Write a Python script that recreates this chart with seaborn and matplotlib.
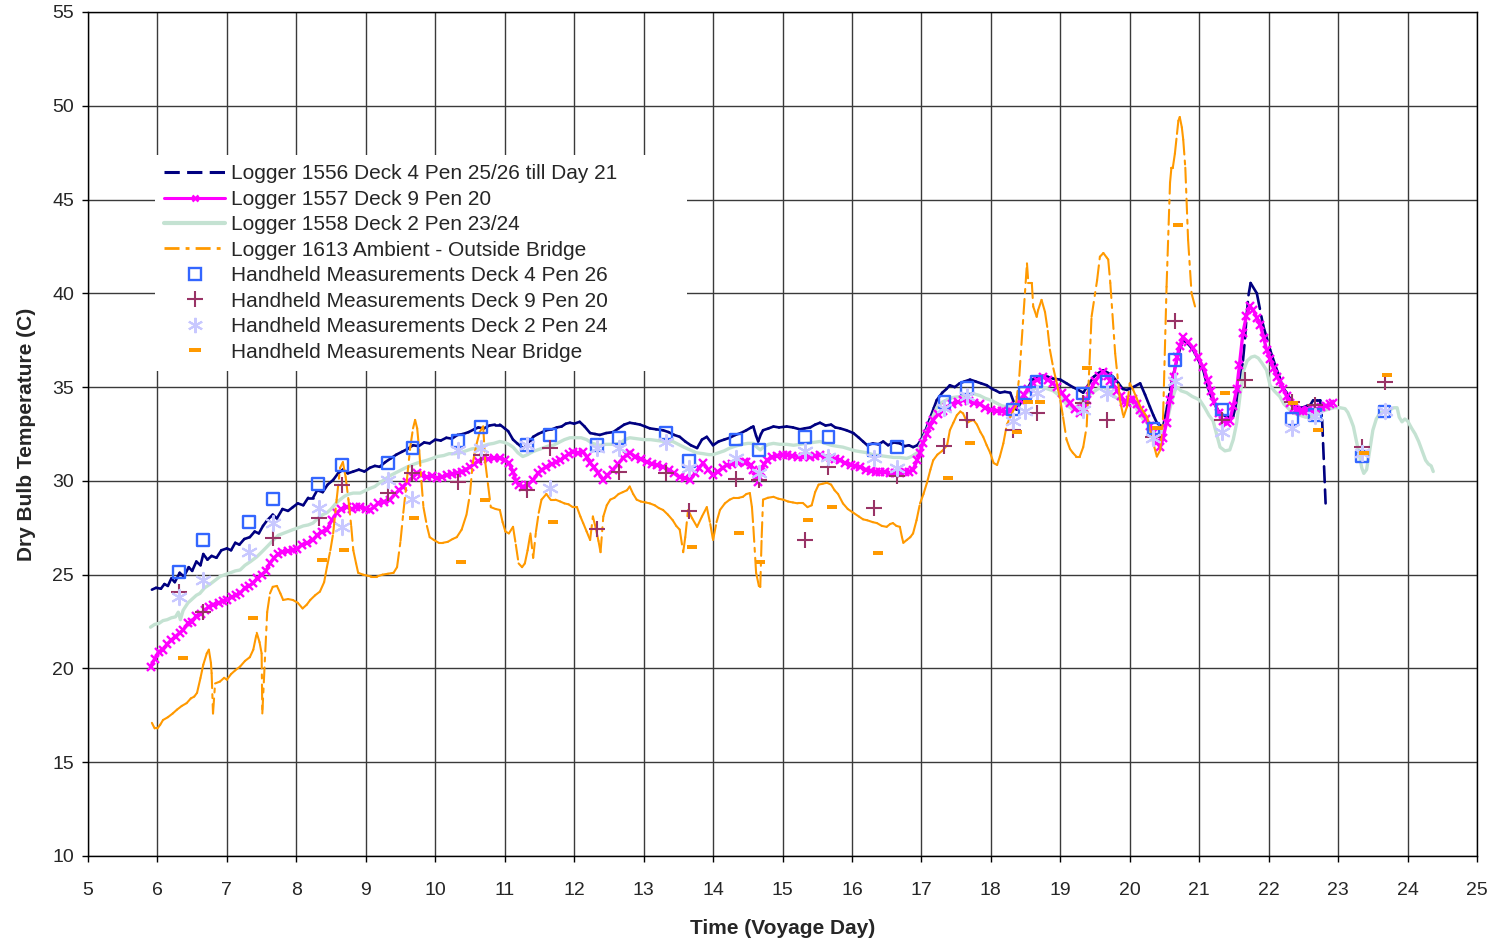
import numpy as np
import matplotlib
matplotlib.use("Agg")
import matplotlib.pyplot as plt
import seaborn as sns
from matplotlib.collections import LineCollection
from matplotlib.lines import Line2D
from matplotlib.path import Path

sns.set_style("ticks")
plt.rcParams["font.family"] = ["Liberation Sans", "DejaVu Sans"]

# ---------------- logger records (voyage day, dry bulb temperature C) ----------------
logger1556_day = [5.92, 5.98, 6.05, 6.10, 6.15, 6.20, 6.25, 6.32, 6.38, 6.45, 6.50, 6.56, 6.62, 6.66, 6.72,
                  6.78, 6.85, 6.92, 7.00, 7.06, 7.12, 7.18, 7.25, 7.33, 7.40, 7.46, 7.52, 7.58, 7.66, 7.72,
                  7.80, 7.88, 7.95, 8.02, 8.10, 8.17, 8.24, 8.30, 8.38, 8.45, 8.53, 8.60, 8.67, 8.74, 8.82,
                  8.90, 8.98, 9.06, 9.13, 9.20, 9.28, 9.36, 9.44, 9.52, 9.60, 9.68, 9.76, 9.84, 9.92, 10.00,
                  10.08, 10.16, 10.24, 10.32, 10.40, 10.48, 10.56, 10.62, 10.70, 10.78, 10.86, 10.93, 11.00,
                  11.05, 11.12, 11.18, 11.26, 11.33, 11.41, 11.48, 11.54, 11.60, 11.68, 11.75, 11.82, 11.88,
                  11.94, 12.00, 12.08, 12.15, 12.23, 12.30, 12.37, 12.46, 12.56, 12.64, 12.72, 12.80, 12.88,
                  12.95, 13.02, 13.09, 13.18, 13.28, 13.36, 13.44, 13.52, 13.60, 13.68, 13.77, 13.84, 13.91,
                  14.00, 14.08, 14.16, 14.24, 14.32, 14.40, 14.48, 14.55, 14.58, 14.62, 14.65, 14.69, 14.72,
                  14.80, 14.87, 14.95, 15.06, 15.15, 15.25, 15.32, 15.40, 15.47, 15.54, 15.62, 15.70, 15.76,
                  15.83, 15.92, 16.02, 16.10, 16.16, 16.22, 16.30, 16.38, 16.45, 16.52, 16.60, 16.69, 16.76,
                  16.82, 16.88, 16.94, 16.98, 17.03, 17.06, 17.10, 17.14, 17.18, 17.22, 17.30, 17.36, 17.41,
                  17.48, 17.55, 17.62, 17.70, 17.78, 17.86, 17.94, 18.02, 18.08, 18.13, 18.20, 18.28, 18.33,
                  18.37, 18.42, 18.47, 18.54, 18.60, 18.68, 18.75, 18.82, 18.90, 19.00, 19.09, 19.18, 19.26,
                  19.33, 19.40, 19.48, 19.55, 19.62, 19.69, 19.76, 19.84, 19.90, 19.96, 20.05, 20.15, 20.22,
                  20.29, 20.34, 20.39, 20.44, 20.48, 20.53, 20.58, 20.63, 20.68, 20.72, 20.77, 20.84, 20.91,
                  20.98, 21.06, 21.10, 21.15, 21.22, 21.30, 21.38, 21.44, 21.49, 21.54, 21.59, 21.63, 21.66,
                  21.68, 21.71, 21.74, 21.83, 21.92, 22.02, 22.10, 22.16, 22.20, 22.26, 22.33, 22.40, 22.48,
                  22.55, 22.60, 22.64, 22.69, 22.74, 22.77, 22.82]
logger1556_temp = [24.2, 24.3, 24.25, 24.5, 24.4, 24.8, 24.6, 25.1, 24.9, 25.4, 25.2, 25.7, 25.5, 26.1, 25.8,
                   26.0, 25.9, 26.3, 26.4, 26.3, 26.7, 26.6, 26.9, 27.0, 27.3, 27.2, 27.6, 27.9, 28.2, 28.0,
                   28.5, 28.4, 28.6, 28.8, 28.7, 29.1, 29.1, 29.5, 29.4, 29.8, 30.05, 30.4, 30.6, 30.4, 30.5,
                   30.6, 30.5, 30.7, 30.8, 30.75, 31.0, 31.2, 31.4, 31.55, 31.7, 31.9, 31.85, 32.05, 32.0, 32.2,
                   32.15, 32.3, 32.25, 32.45, 32.5, 32.6, 32.75, 32.85, 32.8, 32.95, 33.0, 33.0, 32.8,
                   32.65, 32.2, 32.0, 31.75, 31.9, 32.35, 32.5, 32.6, 32.7, 32.75, 32.85, 32.9, 33.05,
                   33.1, 33.05, 33.15, 32.9, 32.55, 32.5, 32.45, 32.55, 32.6, 32.8, 33.0, 33.1, 33.05,
                   33.0, 32.9, 32.8, 32.75, 32.7, 32.6, 32.45, 32.35, 32.1, 31.9, 31.75, 32.2, 32.35,
                   31.9, 32.1, 32.2, 32.3, 32.45, 32.55, 32.7, 32.85, 32.9, 32.4, 32.1, 32.5, 32.7,
                   32.8, 32.9, 32.85, 32.9, 32.85, 32.75, 32.8, 32.85, 33.0, 33.1, 32.95, 33.0, 32.85,
                   32.8, 32.7, 32.55, 32.3, 32.1, 31.9, 32.0, 31.95, 32.1, 31.9, 32.05, 32.0, 31.85,
                   31.9, 31.8, 31.9, 32.1, 32.45, 32.7, 33.1, 33.5, 33.9, 34.3, 34.7, 34.9, 35.1,
                   35.0, 35.2, 35.3, 35.4, 35.3, 35.2, 35.1, 34.9, 34.8, 34.7, 34.75, 34.7, 34.2,
                   33.8, 34.1, 34.5, 35.0, 35.4, 35.5, 35.6, 35.55, 35.45, 35.4, 35.2, 35.0, 34.85,
                   34.7, 35.1, 35.55, 35.75, 35.9, 35.75, 35.55, 35.2, 34.9, 34.85, 35.0, 35.2, 34.6,
                   33.95, 33.5, 33.1, 32.95, 32.9, 33.8, 34.85, 35.7, 36.45, 37.0, 37.5, 37.3, 37.0,
                   36.5, 35.9, 35.3, 34.7, 34.1, 33.6, 33.45, 33.4, 33.45, 34.2, 35.4, 36.4, 37.6,
                   38.7, 39.9, 40.55, 40.0, 38.3, 37.0, 36.1, 35.5, 35.0, 34.7, 34.25, 33.95, 33.9,
                   34.0, 34.05, 34.3, 34.3, 34.3, 33.25, 28.8]

logger1557_day = [5.90, 5.96, 6.02, 6.08, 6.14, 6.20, 6.26, 6.32, 6.37, 6.44, 6.50, 6.56, 6.62, 6.68, 6.74,
                  6.80, 6.88, 6.94, 7.00, 7.07, 7.13, 7.19, 7.26, 7.32, 7.38, 7.44, 7.50, 7.56, 7.62, 7.68,
                  7.74, 7.80, 7.88, 7.95, 8.01, 8.08, 8.16, 8.24, 8.30, 8.37, 8.44, 8.51, 8.58, 8.65, 8.73,
                  8.80, 8.86, 8.92, 9.00, 9.06, 9.12, 9.18, 9.26, 9.35, 9.42, 9.48, 9.54, 9.60, 9.68, 9.74,
                  9.80, 9.88, 9.95, 10.03, 10.10, 10.17, 10.24, 10.31, 10.38, 10.44, 10.50, 10.56, 10.62,
                  10.69, 10.76, 10.84, 10.93, 11.00, 11.06, 11.12, 11.16, 11.20, 11.26, 11.33, 11.41, 11.48,
                  11.54, 11.60, 11.68, 11.74, 11.80, 11.87, 11.93, 11.98, 12.05, 12.13, 12.18, 12.23, 12.28,
                  12.35, 12.42, 12.48, 12.56, 12.63, 12.70, 12.76, 12.80, 12.88, 12.96, 13.05, 13.12, 13.20,
                  13.28, 13.36, 13.44, 13.52, 13.60, 13.67, 13.74, 13.80, 13.86, 13.93, 14.00, 14.07, 14.14,
                  14.20, 14.28, 14.36, 14.44, 14.48, 14.54, 14.58, 14.62, 14.65, 14.69, 14.74, 14.78, 14.85,
                  14.92, 15.00, 15.06, 15.14, 15.22, 15.30, 15.40, 15.47, 15.54, 15.62, 15.70, 15.76, 15.83,
                  15.90, 15.98, 16.05, 16.12, 16.20, 16.28, 16.35, 16.40, 16.48, 16.55, 16.62, 16.69, 16.76,
                  16.82, 16.88, 16.94, 16.98, 17.02, 17.08, 17.12, 17.17, 17.24, 17.31, 17.37, 17.44, 17.52,
                  17.60, 17.68, 17.76, 17.84, 17.92, 18.00, 18.09, 18.16, 18.22, 18.28, 18.35, 18.42, 18.48,
                  18.54, 18.60, 18.67, 18.75, 18.82, 18.89, 18.95, 19.02, 19.08, 19.14, 19.21, 19.28, 19.34,
                  19.38, 19.43, 19.50, 19.56, 19.62, 19.68, 19.72, 19.76, 19.82, 19.88, 19.92, 19.96, 20.00,
                  20.05, 20.10, 20.15, 20.19, 20.24, 20.29, 20.34, 20.39, 20.44, 20.48, 20.53, 20.58, 20.63,
                  20.68, 20.72, 20.77, 20.84, 20.91, 20.98, 21.06, 21.12, 21.17, 21.22, 21.28, 21.34, 21.40,
                  21.44, 21.49, 21.54, 21.58, 21.63, 21.68, 21.73, 21.78, 21.83, 21.88, 21.93, 21.97, 22.02,
                  22.07, 22.12, 22.16, 22.21, 22.26, 22.31, 22.36, 22.40, 22.45, 22.50, 22.56, 22.62, 22.70,
                  22.76, 22.82, 22.88, 22.93]
logger1557_temp = [20.1, 20.5, 20.9, 21.0, 21.3, 21.5, 21.7, 21.9, 22.05, 22.4, 22.5, 22.8, 22.9, 23.1, 23.3,
                   23.4, 23.5, 23.6, 23.65, 23.8, 23.9, 24.0, 24.3, 24.4, 24.55, 24.8, 25.0, 25.2, 25.6, 25.9,
                   26.1, 26.2, 26.25, 26.3, 26.35, 26.6, 26.7, 26.85, 27.1, 27.3, 27.4, 27.9, 28.3, 28.5, 28.6,
                   28.5, 28.6, 28.6, 28.5, 28.45, 28.6, 28.8, 28.9, 29.0, 29.3, 29.5, 29.7, 29.95, 30.2, 30.4,
                   30.3, 30.2, 30.25, 30.15, 30.2, 30.3, 30.35, 30.4, 30.5, 30.6, 30.75, 30.9, 31.05,
                   31.2, 31.15, 31.2, 31.2, 31.1, 30.95, 30.5, 30.0, 29.8, 29.7, 29.8, 30.05, 30.4,
                   30.6, 30.75, 30.9, 31.0, 31.1, 31.3, 31.45, 31.55, 31.5, 31.55, 31.3, 30.95, 30.75,
                   30.4, 30.05, 30.3, 30.6, 30.9, 31.2, 31.4, 31.5, 31.3, 31.15, 31.0, 30.9, 30.85,
                   30.75, 30.6, 30.4, 30.2, 30.15, 30.05, 30.4, 30.7, 30.95, 30.6, 30.3, 30.5, 30.7,
                   30.85, 30.9, 30.95, 31.0, 31.0, 30.85, 30.6, 30.2, 29.95, 30.5, 30.9, 31.1, 31.25,
                   31.35, 31.4, 31.4, 31.35, 31.3, 31.3, 31.3, 31.35, 31.4, 31.3, 31.2, 31.15, 31.1,
                   30.95, 30.85, 30.8, 30.75, 30.6, 30.55, 30.5, 30.5, 30.45, 30.4, 30.4, 30.4, 30.45,
                   30.5, 30.6, 31.1, 31.5, 32.0, 32.5, 32.9, 33.25, 33.55, 33.75, 33.95, 34.1, 34.2,
                   34.3, 34.25, 34.15, 34.1, 33.9, 33.8, 33.75, 33.7, 33.65, 33.7, 34.0, 34.3, 34.6,
                   34.9, 35.2, 35.4, 35.55, 35.4, 35.2, 35.0, 34.7, 34.4, 34.15, 33.85, 33.6, 33.9,
                   34.3, 34.85, 35.3, 35.6, 35.8, 35.6, 35.3, 35.15, 34.8, 34.5, 34.2, 34.15, 34.3,
                   34.35, 34.1, 33.8, 33.6, 33.3, 32.9, 32.55, 32.1, 31.8, 32.3, 33.1, 34.3, 35.55,
                   36.6, 37.2, 37.65, 37.4, 37.1, 36.6, 36.05, 35.4, 34.8, 34.2, 33.6, 33.2, 33.1,
                   33.2, 34.0, 34.9, 36.2, 37.9, 38.8, 39.3, 39.1, 38.7, 38.3, 37.6, 37.0, 36.5,
                   36.0, 35.55, 35.3, 34.9, 34.5, 34.15, 33.9, 33.8, 33.7, 33.75, 33.8, 33.75, 33.85,
                   33.95, 34.0, 34.1, 34.15]

logger1558_day = [5.90, 5.96, 6.02, 6.08, 6.14, 6.20, 6.26, 6.30, 6.33, 6.37, 6.44, 6.50, 6.56, 6.61, 6.68,
                  6.76, 6.83, 6.90, 6.97, 7.05, 7.12, 7.19, 7.26, 7.34, 7.43, 7.50, 7.58, 7.67, 7.74, 7.81,
                  7.88, 7.95, 8.03, 8.10, 8.17, 8.24, 8.31, 8.38, 8.44, 8.50, 8.57, 8.63, 8.70, 8.76, 8.82,
                  8.92, 9.00, 9.06, 9.13, 9.20, 9.28, 9.36, 9.44, 9.52, 9.60, 9.70, 9.78, 9.88, 9.96, 10.03,
                  10.12, 10.20, 10.28, 10.36, 10.44, 10.52, 10.60, 10.68, 10.76, 10.84, 10.93, 11.00, 11.06,
                  11.12, 11.19, 11.26, 11.33, 11.40, 11.47, 11.55, 11.62, 11.70, 11.78, 11.86, 11.94, 12.02,
                  12.10, 12.18, 12.26, 12.37, 12.46, 12.56, 12.66, 12.73, 12.80, 12.90, 13.00, 13.10, 13.20,
                  13.30, 13.42, 13.50, 13.58, 13.67, 13.76, 13.86, 13.94, 14.00, 14.08, 14.16, 14.24, 14.32,
                  14.42, 14.50, 14.58, 14.63, 14.68, 14.74, 14.80, 14.87, 14.96, 15.06, 15.16, 15.25, 15.34,
                  15.44, 15.54, 15.62, 15.70, 15.78, 15.87, 15.96, 16.05, 16.14, 16.22, 16.30, 16.40, 16.50,
                  16.60, 16.69, 16.79, 16.86, 16.94, 16.98, 17.03, 17.08, 17.15, 17.22, 17.30, 17.38, 17.46,
                  17.56, 17.66, 17.75, 17.84, 17.92, 18.00, 18.08, 18.16, 18.23, 18.30, 18.37, 18.44, 18.52,
                  18.60, 18.67, 18.74, 18.82, 18.90, 18.97, 19.04, 19.11, 19.18, 19.25, 19.32, 19.38, 19.46,
                  19.54, 19.62, 19.70, 19.78, 19.86, 19.95, 20.05, 20.12, 20.19, 20.25, 20.32, 20.39, 20.45,
                  20.50, 20.55, 20.60, 20.65, 20.68, 20.74, 20.82, 20.90, 20.96, 21.01, 21.08, 21.14, 21.20,
                  21.25, 21.30, 21.37, 21.44, 21.49, 21.54, 21.59, 21.64, 21.69, 21.75, 21.80, 21.85, 21.90,
                  21.97, 22.02, 22.08, 22.16, 22.22, 22.30, 22.37, 22.45, 22.53, 22.60, 22.68, 22.76, 22.84,
                  22.94, 23.03, 23.10, 23.14, 23.18, 23.22, 23.27, 23.31, 23.34, 23.37, 23.41, 23.45, 23.50,
                  23.55, 23.60, 23.68, 23.75, 23.80, 23.85, 23.88, 23.92, 23.96, 24.00, 24.06, 24.11, 24.16,
                  24.21, 24.26, 24.30, 24.34, 24.37]
logger1558_temp = [22.2, 22.35, 22.4, 22.55, 22.6, 22.7, 22.75, 23.0, 22.6, 23.1, 23.5, 23.7, 23.9, 24.0, 24.3,
                   24.5, 24.7, 24.9, 25.0, 25.1, 25.2, 25.25, 25.5, 25.7, 25.95, 26.2, 26.5, 26.85, 27.1, 27.2,
                   27.3, 27.4, 27.5, 27.6, 27.65, 27.75, 28.0, 28.2, 28.3, 28.5, 28.8, 29.0, 29.2, 29.3, 29.35,
                   29.35, 29.5, 29.6, 29.7, 29.9, 30.1, 30.3, 30.45, 30.6, 30.75, 30.9, 31.0, 31.1, 31.2, 31.3,
                   31.35, 31.45, 31.45, 31.5, 31.6, 31.7, 31.75, 31.85, 31.95, 32.0, 32.1, 32.05, 31.95,
                   31.8, 31.5, 31.3, 31.4, 31.55, 31.65, 31.75, 31.85, 31.9, 32.05, 32.2, 32.3, 32.3,
                   32.3, 32.2, 32.0, 31.9, 31.95, 31.95, 32.0, 32.2, 32.3, 32.25, 32.2, 32.2, 32.15,
                   32.1, 32.1, 31.95, 31.8, 31.65, 31.5, 31.45, 31.4, 31.4, 31.5, 31.6, 31.75, 31.85,
                   31.95, 32.0, 32.0, 31.8, 31.65, 31.85, 31.95, 32.0, 31.95, 31.95, 31.9, 31.95, 32.0,
                   32.05, 32.1, 32.0, 31.9, 31.85, 31.8, 31.7, 31.6, 31.55, 31.5, 31.4, 31.35, 31.3,
                   31.25, 31.25, 31.2, 31.3, 31.5, 31.9, 32.3, 32.7, 33.3, 33.9, 34.2, 34.35, 34.45,
                   34.5, 34.6, 34.65, 34.55, 34.4, 34.3, 34.15, 34.0, 33.95, 33.95, 34.2, 34.45, 34.7,
                   34.85, 35.0, 35.0, 34.9, 34.8, 34.6, 34.3, 34.0, 33.8, 34.0, 34.3, 34.5, 34.7,
                   34.9, 35.0, 34.8, 34.5, 34.3, 34.2, 34.15, 33.7, 33.3, 33.1, 32.7, 32.35, 32.6,
                   32.9, 33.4, 34.2, 34.8, 35.0, 34.8, 34.7, 34.5, 34.4, 34.3, 33.9, 33.5, 33.2,
                   32.5, 31.8, 31.6, 31.65, 32.2, 33.1, 34.6, 35.9, 36.4, 36.6, 36.65, 36.55, 36.3,
                   35.9, 35.1, 34.8, 34.5, 34.1, 33.8, 33.6, 33.5, 33.4, 33.4, 33.55, 33.7, 33.8,
                   33.9, 33.9, 33.85, 33.65, 33.3, 32.9, 32.0, 31.3, 30.7, 30.4, 30.6, 31.5, 32.7,
                   33.3, 33.6, 33.7, 33.8, 33.9, 33.9, 33.4, 33.15, 33.3, 33.2, 32.8, 32.5, 32.1,
                   31.6, 31.1, 30.9, 30.8, 30.5]

logger1613_day = [5.92, 5.96, 6.00, 6.04, 6.08, 6.15, 6.22, 6.28, 6.35, 6.42, 6.48, 6.53, 6.57, 6.62, 6.66,
                  6.71, 6.74, 6.77, 6.78, 6.80, 6.83, 6.90, 6.96, 7.00, 7.06, 7.12, 7.19, 7.26, 7.33, 7.38,
                  7.43, 7.47, 7.50, 7.51, 7.58, 7.62, 7.66, 7.72, 7.77, 7.81, 7.88, 7.95, 8.02, 8.09, 8.15,
                  8.20, 8.27, 8.34, 8.40, 8.44, 8.49, 8.53, 8.58, 8.63, 8.67, 8.71, 8.75, 8.79, 8.82, 8.86,
                  8.89, 8.96, 9.02, 9.08, 9.16, 9.24, 9.32, 9.40, 9.45, 9.50, 9.54, 9.59, 9.64, 9.68, 9.71,
                  9.74, 9.77, 9.80, 9.83, 9.88, 9.92, 9.98, 10.05, 10.11, 10.18, 10.25, 10.31, 10.38, 10.45,
                  10.50, 10.54, 10.59, 10.64, 10.69, 10.72, 10.76, 10.80, 10.87, 10.93, 10.97, 11.01, 11.06,
                  11.12, 11.16, 11.20, 11.25, 11.29, 11.33, 11.37, 11.41, 11.45, 11.49, 11.53, 11.60, 11.66,
                  11.73, 11.80, 11.86, 11.92, 11.98, 12.04, 12.09, 12.13, 12.18, 12.23, 12.27, 12.31, 12.35,
                  12.38, 12.42, 12.47, 12.52, 12.58, 12.64, 12.70, 12.76, 12.80, 12.85, 12.90, 12.96, 13.03,
                  13.09, 13.16, 13.22, 13.28, 13.35, 13.42, 13.47, 13.52, 13.57, 13.60, 13.64, 13.70, 13.77,
                  13.84, 13.91, 13.96, 14.00, 14.05, 14.10, 14.17, 14.24, 14.30, 14.37, 14.43, 14.48, 14.53,
                  14.56, 14.58, 14.62, 14.66, 14.68, 14.70, 14.72, 14.79, 14.87, 14.94, 15.01, 15.08, 15.15,
                  15.22, 15.30, 15.36, 15.42, 15.47, 15.52, 15.58, 15.64, 15.70, 15.75, 15.80, 15.87, 15.94,
                  16.02, 16.10, 16.16, 16.22, 16.30, 16.36, 16.43, 16.50, 16.55, 16.59, 16.64, 16.69, 16.72,
                  16.74, 16.79, 16.84, 16.88, 16.93, 16.98, 17.03, 17.08, 17.13, 17.17, 17.23, 17.30, 17.37,
                  17.41, 17.46, 17.51, 17.56, 17.60, 17.66, 17.71, 17.75, 17.80, 17.85, 17.89, 17.94, 17.99,
                  18.04, 18.09, 18.13, 18.18, 18.23, 18.28, 18.33, 18.36, 18.41, 18.52, 18.54, 18.59, 18.61,
                  18.66, 18.68, 18.73, 18.78, 18.82, 18.85, 18.90, 18.95, 19.00, 19.04, 19.09, 19.14, 19.18,
                  19.23, 19.28, 19.33, 19.38, 19.45, 19.53, 19.57, 19.62, 19.67, 19.69, 19.72, 19.79, 19.86,
                  19.91, 19.96, 20.00, 20.05, 20.10, 20.16, 20.25, 20.30, 20.34, 20.39, 20.44, 20.48, 20.53,
                  20.58, 20.60, 20.62, 20.65, 20.68, 20.70, 20.72, 20.75, 20.77, 20.80, 20.84, 20.89, 20.94]
logger1613_temp = [17.1, 16.8, 16.8, 17.0, 17.25, 17.4, 17.6, 17.8, 18.0, 18.15, 18.4, 18.5, 18.7, 19.5, 20.2,
                   20.8, 21.0, 20.3, 19.75, 17.6, 19.2, 19.3, 19.5, 19.4, 19.7, 19.9, 20.1, 20.4, 20.6, 21.0,
                   21.9, 21.4, 20.8, 17.6, 23.0, 24.0, 24.35, 24.4, 24.0, 23.65, 23.7, 23.65, 23.5, 23.2, 23.4,
                   23.65, 23.9, 24.1, 24.6, 25.4, 26.3, 27.2, 29.0, 30.7, 31.0, 30.2, 29.0, 27.6, 26.3, 25.6,
                   25.1, 25.0, 24.95, 24.9, 24.9, 25.0, 25.05, 25.1, 25.4, 26.8, 28.3, 30.0, 31.8, 32.8, 33.25,
                   32.8, 31.6, 30.0, 28.6, 27.6, 27.0, 26.85, 26.7, 26.7, 26.75, 26.9, 27.0, 27.4, 28.2,
                   29.3, 30.95, 31.9, 32.6, 32.9, 31.0, 29.8, 28.6, 28.5, 28.45, 27.8, 27.3, 27.2,
                   27.55, 26.6, 25.6, 25.4, 25.6, 26.3, 27.2, 25.9, 27.3, 28.3, 29.0, 29.3, 29.0,
                   29.0, 28.9, 28.8, 28.75, 28.6, 28.6, 28.1, 27.75, 27.3, 26.85, 28.1, 27.5, 26.8,
                   26.2, 28.1, 28.7, 29.0, 29.1, 29.3, 29.4, 29.5, 29.7, 29.3, 29.0, 28.9, 28.85,
                   28.8, 28.7, 28.55, 28.45, 28.2, 27.9, 27.6, 27.4, 26.2, 27.0, 28.45, 28.0, 27.55,
                   28.1, 28.6, 27.7, 26.85, 27.8, 28.45, 28.8, 29.0, 29.1, 29.1, 29.15, 29.3, 29.35,
                   28.6, 27.55, 25.1, 24.4, 24.35, 27.0, 29.0, 29.1, 29.15, 29.05, 29.0, 28.9, 28.85,
                   28.8, 28.8, 28.6, 28.7, 29.4, 29.8, 29.85, 29.9, 29.8, 29.5, 29.3, 28.8, 28.5,
                   28.3, 28.1, 27.95, 27.9, 27.8, 27.75, 27.6, 27.55, 27.7, 27.75, 27.6, 27.55, 27.0,
                   26.7, 26.85, 27.0, 27.2, 27.9, 28.8, 29.3, 29.9, 30.6, 31.1, 31.4, 31.6, 31.9,
                   32.7, 33.1, 33.5, 33.7, 33.6, 33.1, 33.2, 33.25, 33.0, 32.6, 32.35, 31.9, 31.5,
                   30.95, 30.85, 31.3, 32.0, 33.0, 33.4, 33.8, 34.0, 35.6, 41.6, 40.55, 40.55, 39.3,
                   38.75, 39.1, 39.65, 39.0, 38.0, 37.0, 36.0, 35.2, 34.3, 33.4, 32.2, 31.7, 31.5,
                   31.3, 31.3, 31.8, 32.9, 38.75, 40.7, 41.95, 42.15, 41.9, 41.8, 40.55, 36.8, 34.3,
                   33.4, 33.95, 35.2, 34.85, 34.4, 33.9, 33.4, 32.6, 32.0, 31.3, 31.65, 33.4, 40.35,
                   45.9, 46.7, 46.7, 47.45, 48.5, 49.2, 49.4, 48.85, 48.2, 46.7, 42.85, 40.0, 39.3]

# ---------------- handheld readings ----------------
hh_deck4_day = [6.31, 6.66, 7.32, 7.66, 8.31, 8.66, 9.32, 9.67, 10.33, 10.66, 11.32, 11.65, 12.33, 12.65,
                13.32, 13.65, 14.33, 14.66, 15.32, 15.66, 16.32, 16.65, 17.33, 17.66, 18.32, 18.49, 18.66,
                19.33, 19.67, 20.34, 20.65, 21.33, 22.34, 22.67, 23.34, 23.67]
hh_deck4_temp = [25.14, 26.85, 27.8, 29.03, 29.83, 30.85, 30.95, 31.75, 32.13, 32.87, 31.9, 32.45, 31.9, 32.3,
                 32.55, 31.05, 32.2, 31.65, 32.35, 32.35, 31.65, 31.8, 34.2, 34.95, 33.8, 34.7, 35.3,
                 34.65, 35.3, 32.8, 36.45, 33.8, 33.3, 33.5, 31.3, 33.7]

hh_deck9_day = [6.31, 6.66, 7.66, 8.33, 8.66, 9.32, 9.66, 10.33, 10.66, 11.32, 11.65, 12.33, 12.65, 13.32,
                13.65, 14.33, 14.66, 15.32, 15.66, 16.32, 16.65, 17.33, 17.66, 18.32, 18.66, 19.33, 19.67,
                20.34, 20.65, 21.33, 21.66, 22.34, 22.67, 23.34, 23.67]
hh_deck9_temp = [24.07, 23.0, 26.95, 28.0, 29.8, 29.35, 30.4, 29.95, 31.4, 29.5, 31.75, 27.45, 30.45, 30.4,
                 28.4, 30.1, 30.05, 26.85, 30.75, 28.55, 30.25, 31.85, 33.25, 32.7, 33.6, 34.15, 33.25,
                 32.35, 38.5, 33.25, 35.4, 34.2, 34.05, 31.8, 35.25]

hh_deck2_day = [6.31, 6.66, 7.32, 7.66, 8.33, 8.66, 9.32, 9.66, 10.33, 10.66, 11.32, 11.65, 12.33, 12.65,
                13.32, 13.65, 14.33, 14.66, 15.32, 15.66, 16.32, 16.65, 17.33, 17.66, 18.32, 18.49, 18.66,
                19.33, 19.67, 20.34, 20.65, 21.33, 22.34, 22.67, 23.34, 23.67]
hh_deck2_temp = [23.8, 24.7, 26.2, 27.75, 28.55, 27.55, 30.05, 29.05, 31.65, 31.75, 31.9, 29.6, 31.75, 31.75,
                 32.05, 30.7, 31.2, 30.4, 31.6, 31.3, 31.2, 30.7, 33.9, 34.5, 33.2, 33.7, 34.7,
                 33.8, 34.7, 32.3, 35.3, 32.6, 32.8, 33.45, 31.5, 33.7]

hh_bridge_day = [6.37, 7.38, 8.37, 8.69, 9.69, 10.37, 10.71, 11.70, 13.70, 14.37, 14.68, 15.37, 15.71, 16.37,
                 17.38, 17.70, 18.37, 18.54, 18.71, 19.38, 20.39, 20.70, 21.37, 22.35, 22.71, 23.38, 23.70]
hh_bridge_temp = [20.55, 22.7, 25.8, 26.3, 28.0, 25.7, 29.0, 27.8, 26.5, 27.2, 25.7, 27.9, 28.6, 26.15,
                  30.15, 32.0, 32.6, 34.2, 34.2, 36.0, 32.8, 43.65, 34.7, 34.15, 32.7, 31.5, 35.65]

series_labels = ["Logger 1556 Deck 4 Pen 25/26 till Day 21",
                 "Logger 1557 Deck 9 Pen 20",
                 "Logger 1558 Deck 2 Pen 23/24",
                 "Logger 1613 Ambient - Outside Bridge",
                 "Handheld Measurements Deck 4 Pen 26",
                 "Handheld Measurements Deck 9 Pen 20",
                 "Handheld Measurements Deck 2 Pen 24",
                 "Handheld Measurements Near Bridge"]

x_ticks = list(range(5, 26))
y_ticks = list(range(10, 56, 5))

# ---------------- styling ----------------
NAVY = "#000080"
MAGENTA = "#ff00ff"
MINT = "#c4e2d2"
ORANGE = "#ff9900"
BLUE = "#3366ff"
PLUM = "#993366"
LAVENDER = "#c8c8ff"

navy_dash = (0, (6.0, 2.8))
orange_dashdot = (0, (7.2, 2.9, 1.9, 2.9))
asterisk = (6, 2, 0)
bar = Path([(-1.0, -0.42), (1.0, -0.42), (1.0, 0.42), (-1.0, 0.42), (-1.0, -0.42)],
           [Path.MOVETO, Path.LINETO, Path.LINETO, Path.LINETO, Path.CLOSEPOLY])

fig = plt.figure(figsize=(14.96, 9.42), dpi=100)
ax = fig.add_axes([88 / 1496, 1 - 856 / 942, (1477 - 88) / 1496, (856 - 12) / 942])


def stepwise_dashed(axis, days, temps, color, width, style, z):
    """Dash pattern restarts on every logged interval, as in a spreadsheet chart."""
    pts = np.column_stack([days, temps])
    segs = np.stack([pts[:-1], pts[1:]], axis=1)
    lc = LineCollection(segs, colors=color, linewidths=width, linestyles=[style],
                        capstyle="round", zorder=z)
    axis.add_collection(lc)


stepwise_dashed(ax, logger1556_day, logger1556_temp, NAVY, 1.9, navy_dash, 3)
sns.lineplot(x=logger1558_day, y=logger1558_temp, color=MINT, lw=2.4, sort=False,
             estimator=None, ax=ax, zorder=3.5)
sns.lineplot(x=logger1557_day, y=logger1557_temp, color=MAGENTA, lw=2.4, marker="x", markersize=6,
             markeredgewidth=1.7, markeredgecolor=MAGENTA, sort=False, estimator=None, ax=ax, zorder=4)
stepwise_dashed(ax, logger1613_day, logger1613_temp, ORANGE, 1.5, orange_dashdot, 5)

sns.scatterplot(x=hh_deck4_day, y=hh_deck4_temp, marker="s", s=70, facecolor="none",
                edgecolor=BLUE, linewidth=1.7, ax=ax, zorder=6)
sns.scatterplot(x=hh_deck9_day, y=hh_deck9_temp, marker="+", s=120, color=PLUM,
                linewidth=1.5, ax=ax, zorder=6)
sns.scatterplot(x=hh_deck2_day, y=hh_deck2_temp, marker=asterisk, s=120, color=LAVENDER,
                linewidth=1.5, ax=ax, zorder=6)
sns.scatterplot(x=hh_bridge_day, y=hh_bridge_temp, marker=bar, s=62, color=ORANGE,
                linewidth=0, ax=ax, zorder=6)

ax.set_xlim(5, 25)
ax.set_ylim(10, 55)
ax.set_xticks(x_ticks)
ax.set_yticks(y_ticks)
ax.tick_params(axis="both", labelsize=14, direction="out", length=4, width=1, color="black")
ax.tick_params(axis="x", pad=15)
ax.tick_params(axis="y", pad=6)
ax.grid(True, color="#3a3a3a", lw=1.0)
ax.set_axisbelow(True)
for sp in ax.spines.values():
    sp.set_visible(True)
    sp.set_color("black")
    sp.set_linewidth(1.0)

ax.set_xlabel("Time (Voyage Day)", fontsize=15, fontweight="bold", labelpad=14)
ax.set_ylabel("Dry Bulb Temperature (C)", fontsize=15, fontweight="bold", labelpad=12)

handles = [
    Line2D([], [], color=NAVY, lw=2.2, linestyle=(0, (5.0, 2.4))),
    Line2D([], [], color=MAGENTA, lw=2.2, marker="x", markersize=5, markeredgewidth=1.8),
    Line2D([], [], color=MINT, lw=3.0),
    Line2D([], [], color=ORANGE, lw=2.0, linestyle=(0, (5.4, 2.2, 1.4, 2.2))),
    Line2D([], [], ls="none", marker="s", markersize=8.5, markerfacecolor="none",
           markeredgecolor=BLUE, markeredgewidth=1.7),
    Line2D([], [], ls="none", marker="+", markersize=11, color=PLUM, markeredgewidth=1.5),
    Line2D([], [], ls="none", marker=asterisk, markersize=11, color=LAVENDER, markeredgewidth=1.5),
    Line2D([], [], ls="none", marker=bar, markersize=8, color=ORANGE, markeredgewidth=0),
]
leg = ax.legend(handles, series_labels, loc="upper left",
                bbox_to_anchor=(155 / 1496, 1 - 365 / 942, (687 - 155) / 1496, (365 - 155) / 942),
                bbox_transform=fig.transFigure, mode="expand", borderaxespad=0,
                fontsize=15, frameon=True, fancybox=False, framealpha=1, edgecolor="none",
                facecolor="white", handlelength=2.9, handletextpad=0.3, labelspacing=0.31,
                borderpad=0.45, numpoints=1)
leg.set_zorder(10)

fig.savefig("out.png", dpi=100)
